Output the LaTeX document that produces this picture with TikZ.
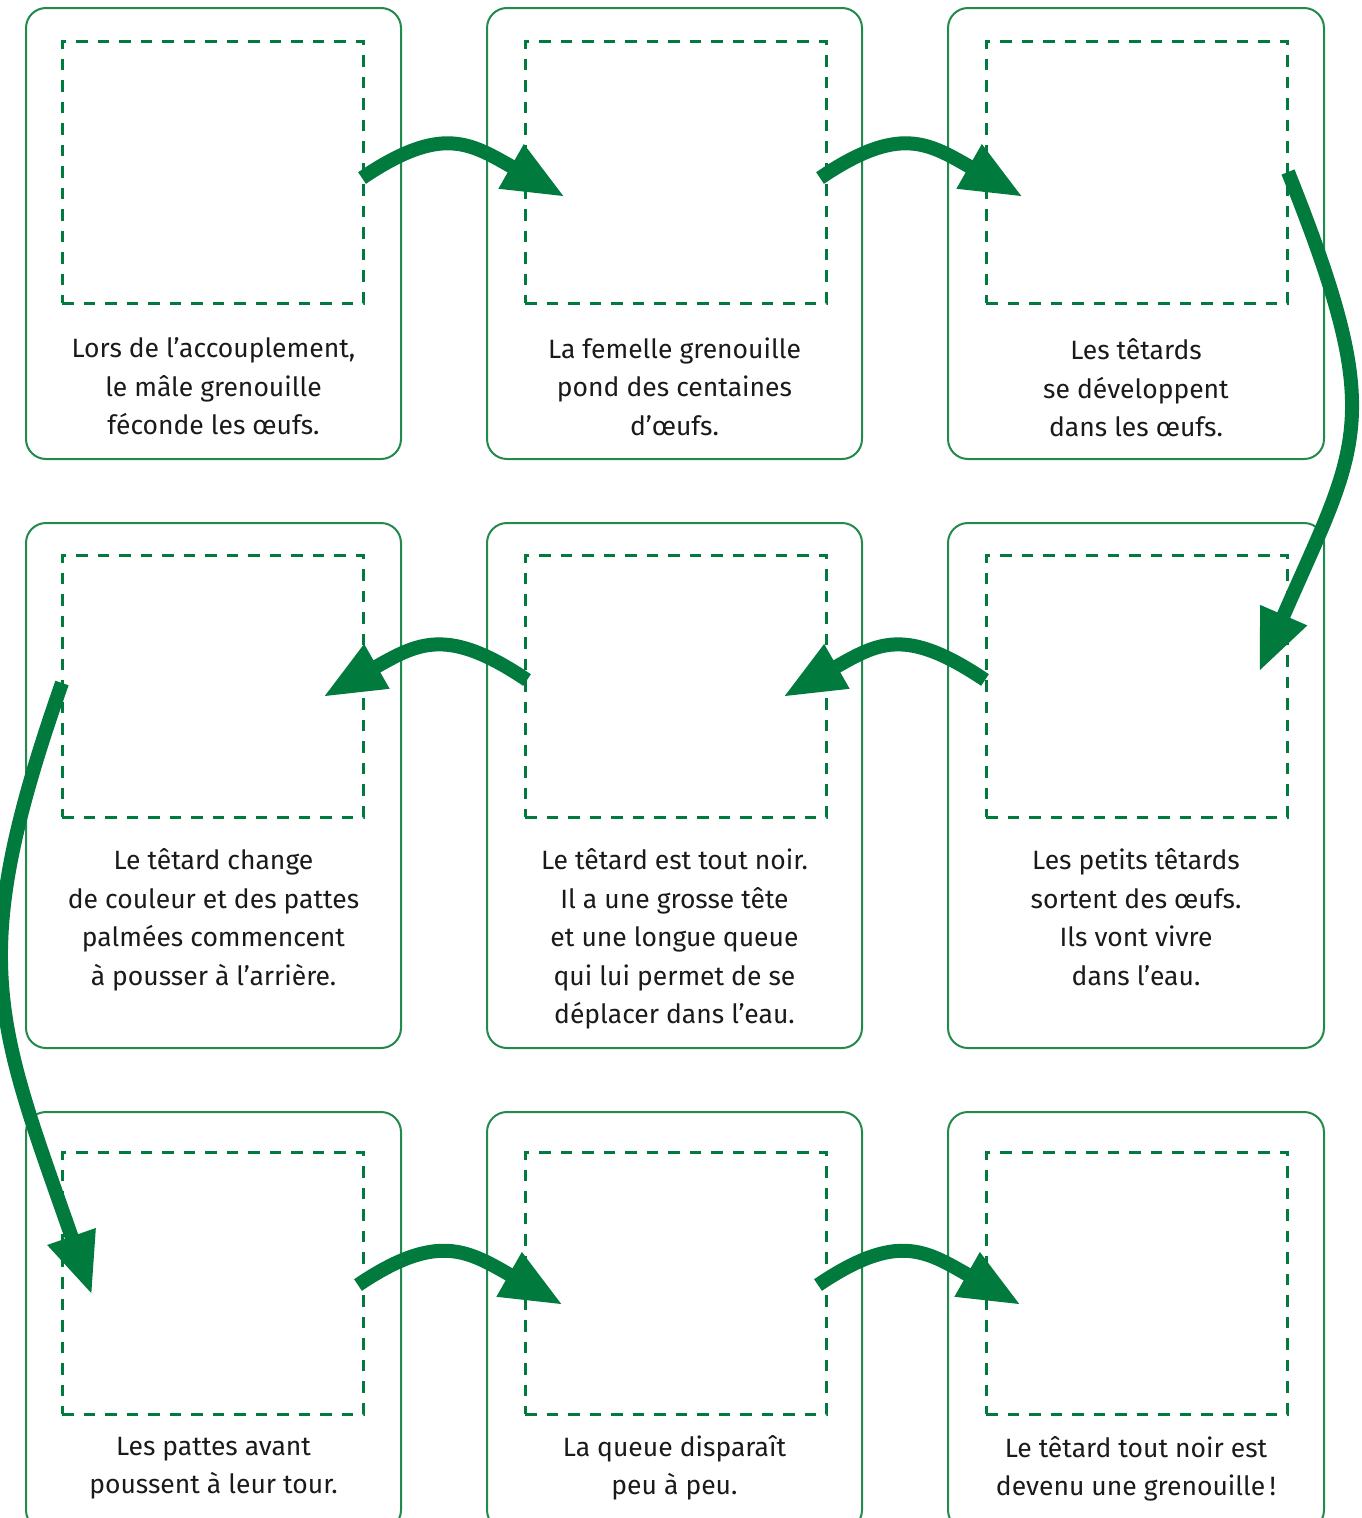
\documentclass[tikz,border=0pt]{standalone}
\usepackage{fontspec}
\setmainfont{Fira Sans}
\usetikzlibrary{arrows.meta}
\definecolor{arrowgreen}{RGB}{0,122,61}
\definecolor{boxgreen}{RGB}{35,138,78}
\definecolor{txt}{RGB}{26,26,26}
\begin{document}
\begin{tikzpicture}[x=1pt,y=-1pt,
 card/.style={draw=boxgreen, line width=2pt, rounded corners=20pt, inner sep=0pt, outer sep=0pt},
 photo/.style={draw=arrowgreen, line width=3pt, dash pattern=on 11.5pt off 10pt, inner sep=0pt, outer sep=0pt, minimum width=301pt, minimum height=262pt},
 caption/.style={text=txt, align=center, font=\fontsize{26.5pt}{38.6pt}\selectfont, inner sep=0pt},
 bigarrow/.style={draw=arrowgreen, line width=14pt, -{Triangle[length=62pt,width=47pt]}}]
\useasboundingbox (0,0) rectangle (1361,1518);
\clip (0,0) rectangle (1361,1518);
\fill[white] (0,0) rectangle (1361,1518);
% cards
\node[card, minimum width=375pt, minimum height=451pt] (b1) at (213.5,233.5) {};
\node[card, minimum width=375pt, minimum height=451pt] (b2) at (674.5,233.5) {};
\node[card, minimum width=376pt, minimum height=451pt] (b3) at (1136,233.5) {};
\node[card, minimum width=375pt, minimum height=525pt] (b4) at (213.5,785.5) {};
\node[card, minimum width=375pt, minimum height=525pt] (b5) at (674.5,785.5) {};
\node[card, minimum width=376pt, minimum height=525pt] (b6) at (1136,785.5) {};
\node[card, minimum width=375pt, minimum height=418pt] (b7) at (213.5,1321) {};
\node[card, minimum width=375pt, minimum height=418pt] (b8) at (674.5,1321) {};
\node[card, minimum width=376pt, minimum height=418pt] (b9) at (1136,1321) {};
% photo frames
\node[photo] (p1) at (212.5,172) {};
\node[photo] (p2) at (675.5,172) {};
\node[photo] (p3) at (1136.5,172) {};
\node[photo] (p4) at (212.5,686) {};
\node[photo] (p5) at (675.5,686) {};
\node[photo] (p6) at (1136.5,686) {};
\node[photo] (p7) at (212.5,1283) {};
\node[photo] (p8) at (675.5,1283) {};
\node[photo] (p9) at (1136.5,1283) {};
% captions
\node[caption] (t1) at (213.5,386.5) {Lors de l’accouplement,\\le mâle grenouille\\féconde les œufs.};
\node[caption] (t2) at (674.5,386.5) {La femelle grenouille\\pond des centaines\\d’œufs.};
\node[caption] (t3) at (1136,388) {Les têtards\\se développent\\dans les œufs.};
\node[caption] (t4) at (213.5,920) {Le têtard change\\de couleur et des pattes\\palmées commencent\\à pousser à l’arrière.};
\node[caption] (t5) at (674.5,939) {Le têtard est tout noir.\\Il a une grosse tête\\et une longue queue\\qui lui permet de se\\déplacer dans l’eau.};
\node[caption] (t6) at (1136,917) {Les petits têtards\\sortent des œufs.\\Ils vont vivre\\dans l’eau.};
\node[caption] (t7) at (213.5,1468) {Les pattes avant\\poussent à leur tour.};
\node[caption] (t8) at (674.5,1468) {La queue disparaît\\peu à peu.};
\node[caption] (t9) at (1136,1469) {Le têtard tout noir est\\devenu une grenouille\,!};
% arrow end points
\coordinate (a1s) at (362,178);  \coordinate (a1e) at (565,197);
\coordinate (a2s) at (820,178);  \coordinate (a2e) at (1023,197);
\coordinate (a3s) at (1288,172); \coordinate (a3e) at (1259,672);
\coordinate (a4s) at (985,680);  \coordinate (a4e) at (783,697);
\coordinate (a5s) at (527,680);  \coordinate (a5e) at (323,697);
\coordinate (a6s) at (62,683);   \coordinate (a6e) at (92,1295);
\coordinate (a7s) at (358,1285); \coordinate (a7e) at (563,1305);
\coordinate (a8s) at (818,1285); \coordinate (a8e) at (1021,1305);
% arrows
\draw[bigarrow] (a1s) .. controls +(80,-54) and +(-95,-54) .. (a1e);
\draw[bigarrow] (a2s) .. controls +(80,-54) and +(-95,-54) .. (a2e);
\draw[bigarrow] (a3s) .. controls +(100,250) and +(100,-230) .. (a3e);
\draw[bigarrow] (a4s) .. controls +(-80,-54) and +(95,-54) .. (a4e);
\draw[bigarrow] (a5s) .. controls +(-80,-54) and +(95,-54) .. (a5e);
\draw[bigarrow] (a6s) .. controls +(-97,277) and +(-97,-277) .. (a6e);
\draw[bigarrow] (a7s) .. controls +(80,-54) and +(-95,-54) .. (a7e);
\draw[bigarrow] (a8s) .. controls +(80,-54) and +(-95,-54) .. (a8e);
\end{tikzpicture}
\end{document}
